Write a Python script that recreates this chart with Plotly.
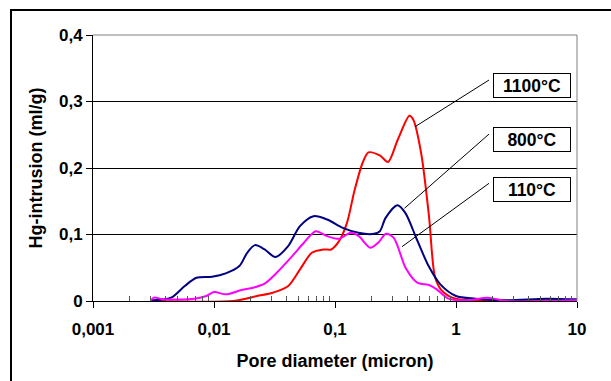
import plotly.graph_objects as go

# ---- data (pore diameter in micron, Hg intrusion in ml/g) ----
d_800 = [0.00305, 0.00442, 0.00573, 0.00716, 0.00964, 0.0125, 0.0162, 0.0188, 0.0218, 0.0262,
         0.0321, 0.041, 0.0513, 0.0665, 0.0861, 0.116, 0.156, 0.210, 0.235, 0.262, 0.328, 0.381,
         0.475, 0.594, 0.743, 1.0, 1.45, 2.63, 5.52, 10.0]
v_800 = [0.001, 0.005, 0.0225, 0.035, 0.0365, 0.0415, 0.0525, 0.0725, 0.084, 0.0775,
         0.066, 0.0825, 0.1125, 0.1275, 0.1225, 0.110, 0.1025, 0.101, 0.105, 0.125, 0.144, 0.1325,
         0.0925, 0.0525, 0.025, 0.0075, 0.0035, 0.001, 0.0035, 0.0025]

d_110 = [0.0030, 0.00317, 0.00381, 0.00692, 0.00865, 0.0100, 0.0125, 0.0169, 0.0211, 0.0264,
         0.033, 0.0443, 0.0553, 0.0692, 0.0865, 0.108, 0.135, 0.157, 0.196, 0.227, 0.264, 0.306,
         0.383, 0.479, 0.598, 0.693, 0.865, 1.26, 1.82, 2.64, 10.0]
v_110 = [0.0, 0.005, 0.0025, 0.0035, 0.0075, 0.0135, 0.010, 0.0165, 0.020, 0.0265,
         0.0425, 0.0675, 0.0875, 0.105, 0.0975, 0.0935, 0.1025, 0.0975, 0.080, 0.0875, 0.101, 0.095,
         0.050, 0.0275, 0.024, 0.0175, 0.0035, 0.001, 0.005, 0.0, 0.001]

d_1100 = [0.00305, 0.0145, 0.0227, 0.0306, 0.0411, 0.0514, 0.0643, 0.0803, 0.093, 0.108, 0.1256,
          0.1456, 0.169, 0.189, 0.236, 0.274, 0.33, 0.412, 0.444, 0.515, 0.598, 0.668, 0.748,
          0.933, 1.26, 3.0, 10.0]
v_1100 = [0.0, 0.0, 0.0075, 0.0125, 0.0225, 0.0475, 0.0725, 0.0775, 0.0775, 0.090, 0.1175,
          0.1675, 0.2075, 0.2235, 0.2185, 0.209, 0.2425, 0.2785, 0.2725, 0.2225, 0.1275, 0.0375, 0.0175,
          0.005, 0.001, 0.0005, 0.001]

labels = ["1100°C", "800°C", "110°C"]
# leader lines: label end (x, y) and curve end (x, y)
lead_x0 = [1.875, 1.875, 1.875]
lead_y0 = [0.3323, 0.251, 0.177]
lead_x1 = [0.458, 0.375, 0.358]
lead_y1 = [0.262, 0.1394, 0.0817]

x_tickvals = [0.001, 0.01, 0.1, 1, 10]
x_ticktext = ["0,001", "0,01", "0,1", "1", "10"]
y_tickvals = [0, 0.1, 0.2, 0.3, 0.4]
y_ticktext = ["0", "0,1", "0,2", "0,3", "0,4"]

FONT = "Liberation Sans, Arial, sans-serif"

fig = go.Figure()
for xs, ys, col in [(d_1100, v_1100, "#FF0000"), (d_800, v_800, "#000080"), (d_110, v_110, "#FF00FF")]:
    fig.add_trace(go.Scatter(x=xs, y=ys, mode="lines",
                             line=dict(color=col, width=2, shape="spline", smoothing=0.8),
                             showlegend=False, hoverinfo="skip"))

for i in range(3):
    fig.add_trace(go.Scatter(x=[lead_x0[i], lead_x1[i]], y=[lead_y0[i], lead_y1[i]], mode="lines",
                             line=dict(color="black", width=1), showlegend=False, hoverinfo="skip"))

minor_vals = [m * 10 ** e for e in range(-3, 1) for m in range(2, 10)]

fig.update_xaxes(type="log", range=[-3, 1], tickvals=x_tickvals,
                 ticktext=["<b>%s</b>" % t for t in x_ticktext],
                 ticks="outside", ticklen=6, tickcolor="black", tickwidth=1, ticklabelstandoff=7,
                 showline=True, linecolor="black", linewidth=1, showgrid=False, zeroline=False,
                 minor=dict(tickvals=minor_vals, ticks="inside", ticklen=5, tickcolor="#555555",
                            tickwidth=1, showgrid=False),
                 tickfont=dict(family=FONT, size=17, color="black"),
                 title=dict(text="<b>Pore diameter (micron)</b>", standoff=15,
                            font=dict(family=FONT, size=18, color="black")))
fig.update_yaxes(range=[0, 0.4], tickvals=y_tickvals,
                 ticktext=["<b>%s</b>" % t for t in y_ticktext],
                 ticks="outside", ticklen=6, tickcolor="black", tickwidth=1,
                 showline=True, linecolor="black", linewidth=1,
                 showgrid=True, gridcolor="black", gridwidth=1, zeroline=False,
                 tickfont=dict(family=FONT, size=17, color="black"),
                 title=dict(text="<b>Hg-intrusion (ml/g)</b>", standoff=11,
                            font=dict(family=FONT, size=18, color="black")))

W, H = 611, 381
ml, mr, mt, mb = 93, 34, 35, 80
pw, ph = W - ml - mr, H - mt - mb

def px(x):
    return (x - ml) / pw

def py(y):
    return (H - mb - y) / ph

shapes = [
    dict(type="rect", xref="paper", yref="paper", x0=px(11), x1=px(640), y0=py(420), y1=py(10),
         line=dict(color="black", width=2), layer="below"),
    dict(type="line", xref="paper", yref="paper", x0=0, x1=1, y0=1, y1=1,
         line=dict(color="#808080", width=1)),
    dict(type="line", xref="paper", yref="paper", x0=1, x1=1, y0=0, y1=1,
         line=dict(color="#808080", width=1)),
]

box_y = [85.2, 139.3, 189.2]
annotations = []
for lab, by in zip(labels, box_y):
    annotations.append(dict(xref="paper", yref="paper", x=px(531.5), y=py(by), text="<b>%s</b>" % lab,
                            showarrow=False, font=dict(family=FONT, size=17.5, color="black"),
                            bgcolor="white", bordercolor="black", borderwidth=1, borderpad=2,
                            width=72, height=19, xanchor="center", yanchor="middle"))

fig.update_layout(width=W, height=H, margin=dict(l=ml, r=mr, t=mt, b=mb),
                  paper_bgcolor="white", plot_bgcolor="white",
                  shapes=shapes, annotations=annotations, showlegend=False)

fig.write_html("out.html")
